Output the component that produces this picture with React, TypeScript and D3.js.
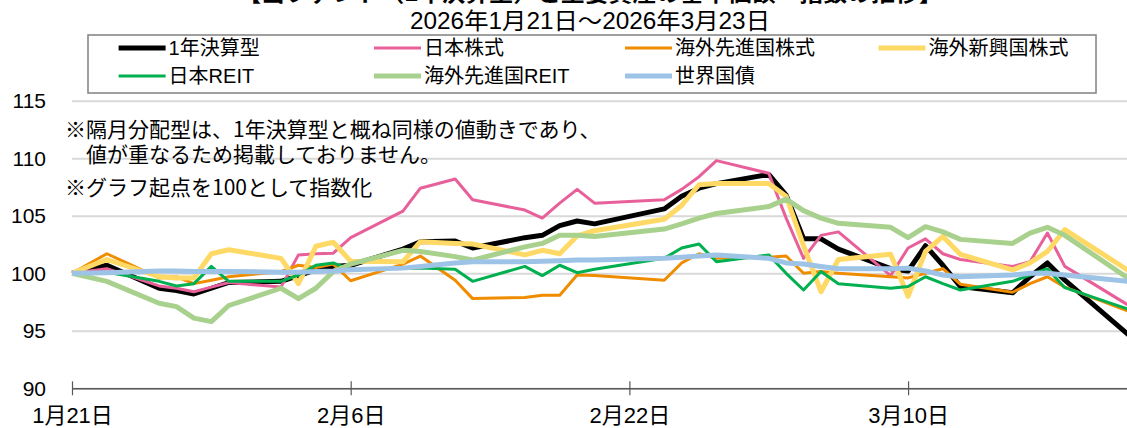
import React, { useEffect, useRef } from "react";
import * as d3 from "d3";

// 基準日（営業日）
const dates = [
  "2026-01-21", "2026-01-23", "2026-01-26", "2026-01-27", "2026-01-28", "2026-01-29", "2026-01-30",
  "2026-02-02", "2026-02-03", "2026-02-04", "2026-02-05", "2026-02-06", "2026-02-09", "2026-02-10",
  "2026-02-12", "2026-02-13", "2026-02-16", "2026-02-17", "2026-02-18", "2026-02-19", "2026-02-20",
  "2026-02-24", "2026-02-25", "2026-02-26", "2026-02-27", "2026-03-02", "2026-03-03", "2026-03-04",
  "2026-03-05", "2026-03-06", "2026-03-09", "2026-03-10", "2026-03-11", "2026-03-12", "2026-03-13",
  "2026-03-16", "2026-03-17", "2026-03-18", "2026-03-19", "2026-03-23",
];

// 指数化した値（起点=100）
const fund1y = [
  100, 100.7, 98.7, 98.5, 98.2, 98.7, 99.2, 99.3, 99.8, 100.3, 100.6, 100.7, 102.1, 102.75,
  102.8, 102.2, 103.1, 103.3, 104.15, 104.55, 104.3, 105.6, 106.7, 107.4, 107.8, 108.6, 106.8, 103.0,
  103.0, 102.1, 100.4, 100.2, 102.4, 100.7, 98.85, 98.3, 99.7, 100.9, 99.4, 94.2,
];
const jpEquity = [
  100, 100.4, 98.9, 98.7, 98.4, 98.8, 99.2, 98.8, 101.6, 101.7, 101.75, 103.1, 105.4, 107.4,
  108.2, 106.4, 105.5, 104.8, 106.1, 107.3, 106.1, 106.4, 107.3, 108.4, 109.8, 108.7, 104.8, 101.3,
  103.3, 103.6, 99.8, 102.2, 103.0, 101.7, 101.2, 100.6, 101.0, 103.5, 100.6, 96.9,
];
const dmEquity = [
  100, 101.7, 99.6, 99.7, 99.1, 99.4, 99.7, 100.15, 100.7, 100.5, 100.8, 99.35, 100.8, 101.5,
  99.4, 97.8, 97.9, 98.1, 98.1, 99.85, 99.8, 99.4, 100.9, 101.7, 101.3, 101.4, 101.5, 100.0,
  100.15, 100.0, 99.7, 99.6, 100.0, 100.4, 99.05, 98.35, 99.1, 99.7, 98.8, 96.5,
];
const emEquity = [
  100, 101.2, 99.7, 99.6, 99.6, 101.7, 102.05, 101.3, 99.1, 102.35, 102.7, 101.05, 101.0, 102.75,
  102.6, 102.55, 101.6, 102.0, 101.7, 103.25, 103.7, 104.7, 105.9, 107.7, 107.8, 107.8, 106.7, 102.4,
  98.4, 101.2, 101.65, 98.0, 101.9, 103.2, 101.65, 100.3, 100.9, 101.9, 103.8, 99.9,
];
const jpReit = [
  100, 100.1, 99.3, 98.9, 99.1, 100.6, 99.3, 99.3, 99.85, 100.7, 100.9, 100.3, 100.45, 100.45,
  100.35, 99.3, 100.6, 99.8, 100.7, 100.05, 100.35, 101.3, 102.2, 102.55, 101.0, 101.6, 100.0, 98.55,
  100.15, 99.1, 98.7, 98.85, 99.7, 99.1, 98.55, 99.3, 99.85, 100.4, 98.75, 96.7,
];
const dmReit = [
  100, 99.3, 97.4, 97.1, 96.1, 95.8, 97.2, 98.7, 97.8, 98.7, 100.15, 100.8, 102.0, 101.9,
  101.45, 101.15, 102.3, 102.6, 103.3, 103.3, 103.2, 103.85, 104.3, 104.8, 105.2, 105.8, 106.45, 105.45,
  104.8, 104.35, 104.0, 103.1, 104.05, 103.6, 102.95, 102.6, 103.5, 104.0, 103.3, 99.2,
];
const worldBond = [
  100, 100.05, 100.2, 100.2, 100.15, 100.15, 100.15, 100.1, 100.1, 100.15, 100.2, 100.3, 100.45, 100.6,
  100.9, 101.0, 101.0, 101.05, 101.1, 101.15, 101.15, 101.3, 101.4, 101.5, 101.6, 101.3, 100.9, 100.8,
  100.6, 100.4, 100.4, 100.45, 100.2, 99.85, 99.7, 99.85, 100.0, 100.0, 99.85, 99.25,
];

const seriesNames = ["1年決算型", "日本株式", "海外先進国株式", "海外新興国株式", "日本REIT", "海外先進国REIT", "世界国債"];
const seriesValues = [fund1y, jpEquity, dmEquity, emEquity, jpReit, dmReit, worldBond];
const seriesColors = ["#000000", "#E8609A", "#F08C00", "#FFD966", "#00B050", "#A9D18E", "#9DC3E6"];
const seriesWidths = [5, 3, 3, 5, 3, 5, 5];

const yTicks = [90, 95, 100, 105, 110, 115];
const xTickDates = ["2026-01-21", "2026-02-06", "2026-02-22", "2026-03-10"];
const xTickLabels = ["1月21日", "2月6日", "2月22日", "3月10日"];

const titleText = "【当ファンド（1年決算型）と主要資産の基準価額・指数の推移】";
const periodText = "2026年1月21日～2026年3月23日";
const notes = [
  "※隔月分配型は、1年決算型と概ね同様の値動きであり、",
  "　値が重なるため掲載しておりません。",
  "※グラフ起点を100として指数化",
];

const W = 1127;
const H = 428;
const FONT = "'Liberation Sans', Arial, 'Noto Sans CJK JP', sans-serif";
const JP_FONT = "'Noto Sans CJK JP', sans-serif";

const parse = d3.utcParse("%Y-%m-%d");

const App = () => {
  const svgRef = useRef<SVGSVGElement>(null);

  useEffect(() => {
    const svg = d3.select(svgRef.current);
    svg.selectAll("*").remove();

    const xDates = dates.map((d) => parse(d) as Date);
    const x = d3
      .scaleUtc()
      .domain([parse("2026-01-21") as Date, parse("2026-03-23") as Date])
      .range([72, 1134.5]);
    const y = d3.scaleLinear().domain([90, 115]).range([388.3, 100.8]);

    // 目盛線とY軸ラベル
    const gy = svg
      .append("g")
      .attr("transform", "translate(72,0)")
      .call(
        d3
          .axisLeft(y)
          .tickValues(yTicks)
          .tickSize(-(W - 72))
          .tickPadding(26)
          .tickFormat((d) => String(d))
      );
    gy.select(".domain").remove();
    gy.selectAll(".tick line").attr("stroke", "#d9d9d9").attr("stroke-width", 2);
    gy.selectAll(".tick text")
      .attr("font-size", 21)
      .attr("font-family", FONT)
      .attr("fill", "#000");

    // 注記
    svg
      .append("g")
      .selectAll("text")
      .data(notes)
      .enter()
      .append("text")
      .attr("x", 65)
      .attr("y", (d, i) => [128, 153, 186][i])
      .attr("dominant-baseline", "central")
      .attr("font-family", JP_FONT)
      .attr("font-size", 21)
      .attr("fill", "#000")
      .text((d) => d);

    // 系列
    const line = d3
      .line<number>()
      .x((d, i) => x(xDates[i]))
      .y((d) => y(d));

    svg
      .append("g")
      .selectAll("path")
      .data(seriesValues)
      .enter()
      .append("path")
      .attr("d", (d) => line(d))
      .attr("fill", "none")
      .attr("stroke", (d, i) => seriesColors[i])
      .attr("stroke-width", (d, i) => seriesWidths[i])
      .attr("stroke-linejoin", "round");

    // X軸
    const gx = svg
      .append("g")
      .attr("transform", `translate(0,${y(90)})`)
      .call(
        d3
          .axisBottom(x)
          .tickValues(xTickDates.map((d) => parse(d) as Date))
          .tickFormat((d, i) => xTickLabels[i])
          .tickSize(7)
          .tickSizeOuter(0)
          .tickPadding(12)
      );
    gx.select(".domain").attr("stroke", "#595959").attr("stroke-width", 1.5);
    gx.selectAll(".tick line").attr("y1", -7).attr("y2", 7).attr("stroke", "#595959").attr("stroke-width", 1.2);
    gx.selectAll(".tick text")
      .attr("font-size", 22)
      .attr("font-family", FONT)
      .attr("fill", "#000");

    // タイトル（上端で切れている）
    svg
      .append("text")
      .attr("x", 590)
      .attr("y", 1)
      .attr("text-anchor", "middle")
      .attr("font-family", FONT)
      .attr("font-weight", "bold")
      .attr("font-size", 22)
      .attr("textLength", 705)
      .attr("lengthAdjust", "spacingAndGlyphs")
      .text(titleText);
    svg
      .append("text")
      .attr("x", 590)
      .attr("y", 29)
      .attr("text-anchor", "middle")
      .attr("font-family", FONT)
      .attr("font-size", 23)
      .attr("textLength", 360)
      .attr("lengthAdjust", "spacingAndGlyphs")
      .text(periodText);

    // 凡例
    svg
      .append("rect")
      .attr("x", 88)
      .attr("y", 35)
      .attr("width", 1008)
      .attr("height", 58)
      .attr("fill", "#fff")
      .attr("stroke", "#808080")
      .attr("stroke-width", 1.5);

    const colX = [118.6, 374, 625, 878.5];
    const rowY = [48, 76];
    const items = svg
      .append("g")
      .selectAll("g")
      .data(seriesNames)
      .enter()
      .append("g")
      .attr("transform", (d, i) => `translate(${colX[i % 4]},${rowY[Math.floor(i / 4)]})`);
    items
      .append("line")
      .attr("x1", 0)
      .attr("x2", 47)
      .attr("stroke", (d, i) => seriesColors[i])
      .attr("stroke-width", (d, i) => seriesWidths[i]);
    items
      .append("text")
      .attr("x", 50)
      .attr("dominant-baseline", "central")
      .attr("font-family", FONT)
      .attr("font-size", 20)
      .text((d) => d);
  }, []);

  return (
    <div style={{ position: "absolute", left: 0, top: 0 }}>
      <svg ref={svgRef} width={W} height={H}></svg>
    </div>
  );
};

export default App;
